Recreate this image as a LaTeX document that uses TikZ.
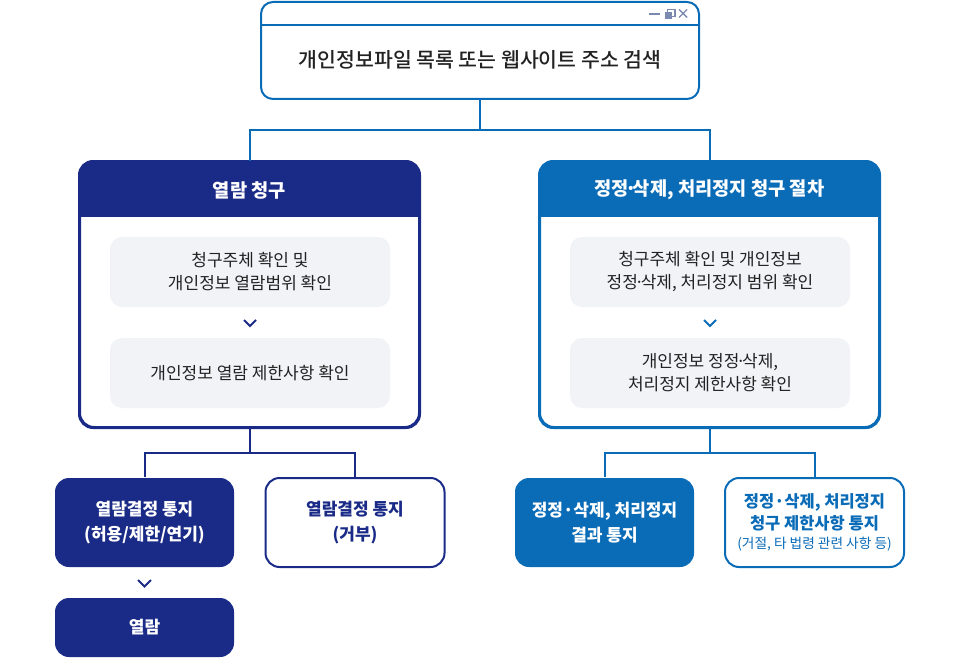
\documentclass[tikz,border=0pt]{standalone}
\usepackage{fontspec}
\setmainfont{Noto Sans CJK KR}
\newfontfamily\medfont{Noto Sans CJK KR}[UprightFont={* Medium}]
\newcommand\tdot{\kern-0.2em·\kern-0.2em}
\definecolor{navy}{HTML}{1A2A87}
\definecolor{mblue}{HTML}{0A6BB7}
\definecolor{innerbg}{HTML}{F1F3F7}
\definecolor{txt}{HTML}{222222}
\definecolor{icon}{HTML}{7A8AB0}
\tikzset{
  panel/.style={draw, line width=2pt, rounded corners=14pt, minimum width=339pt, minimum height=265pt, inner sep=0pt},
  innerbox/.style={fill=innerbg, rounded corners=12pt, minimum width=280pt, minimum height=70pt, align=center, text=txt, font=\fontsize{17}{23}\selectfont},
  resbox/.style={line width=2pt, rounded corners=14pt, minimum width=179pt, minimum height=89pt, align=center, font=\fontsize{17}{25}\selectfont\bfseries},
  conn/.style={line width=2pt},
  chev/.style={line width=1.8pt},
  headtxt/.style={text=white, font=\fontsize{18.7}{20}\selectfont\bfseries}
}
\begin{document}
\begin{tikzpicture}[x=1pt,y=-1pt]
\useasboundingbox (0,0) rectangle (960,658);
% top box
\node[draw=mblue, line width=2pt, rounded corners=12pt, minimum width=438pt, minimum height=97pt, inner sep=0pt] (top) at (480,50.5) {};
\draw[mblue, line width=2pt] (top.west |- 0,25) -- (top.east |- 0,25);
\node[text=txt, font=\fontsize{20.5}{22}\selectfont\medfont] (toptxt) at (480,60) {개인정보파일 목록 또는 웹사이트 주소 검색};
\draw[icon, line width=1.6pt] (649,14) -- (660,14);
\draw[icon, line width=1.2pt] (667.5,9.5) rectangle (675,16.5);
\fill[icon] (664.5,12) rectangle (672,19);
\draw[icon, line width=1.4pt] (679,9.5) -- (687,17.5) (687,9.5) -- (679,17.5);

% panels
\node[panel, draw=navy] (lp) at (249.5,294.5) {};
\node[panel, draw=mblue] (rp) at (709.5,294.5) {};
\begin{scope}
\clip[rounded corners=14pt] (lp.north west) rectangle (lp.south east);
\fill[navy] (lp.north west) rectangle ([yshift=-56pt]lp.north east);
\end{scope}
\begin{scope}
\clip[rounded corners=14pt] (rp.north west) rectangle (rp.south east);
\fill[mblue] (rp.north west) rectangle ([yshift=-56pt]rp.north east);
\end{scope}
\draw[navy, line width=2pt, rounded corners=14pt] (lp.north west) rectangle (lp.south east);
\draw[mblue, line width=2pt, rounded corners=14pt] (rp.north west) rectangle (rp.south east);
\node[headtxt] (lh) at (249.5,190) {열람 청구};
\node[headtxt] (rh) at (709.5,190) {정정\tdot 삭제, 처리정지 청구 절차};

% inner boxes
\node[innerbox] (l1) at (250,272) {청구주체 확인 및\\개인정보 열람범위 확인};
\node[innerbox] (l2) at (250,373) {개인정보 열람 제한사항 확인};
\node[innerbox] (r1) at (710,272) {청구주체 확인 및 개인정보\\정정\tdot 삭제, 처리정지 범위 확인};
\node[innerbox] (r2) at (710,373) {개인정보 정정\tdot 삭제,\\처리정지 제한사항 확인};
\draw[navy, chev] (244,320) -- (250,326) -- (256,320);
\draw[mblue, chev] (704,320) -- (710,326) -- (716,320);

% result boxes
\node[resbox, fill=navy, text=white] (b1) at (144.5,522.5) {열람결정 통지\\(허용/제한/연기)};
\node[resbox, draw=navy, text=navy] (b2) at (355,522.5) {열람결정 통지\\(거부)};
\node[resbox, fill=navy, text=white, minimum height=59pt] (b3) at (144.5,627.5) {열람};
\node[resbox, fill=mblue, text=white] (b4) at (604.5,522.5) {정정·삭제, 처리정지\\결과 통지};
\node[resbox, draw=mblue, text=mblue, font=\fontsize{16.5}{22}\selectfont\bfseries] (b5) at (814.5,522.5) {정정·삭제, 처리정지\\청구 제한사항 통지\\[-3pt]{\fontsize{13.7}{16}\selectfont\mdseries (거절, 타 법령 관련 사항 등)}};
\draw[navy, chev] (138,580) -- (144.5,586.5) -- (151,580);

% connectors
\coordinate (tj) at (480,130);
\draw[mblue, conn] (top.south) -- (tj);
\draw[mblue, conn] (tj) -| (lp.north);
\draw[mblue, conn] (tj) -| (rp.north);
\coordinate (lj) at (249.5,453);
\draw[navy, conn] (lp.south) -- (lj);
\draw[navy, conn] (lj) -| (b1.north);
\draw[navy, conn] (lj) -| (b2.north);
\coordinate (rj) at (709.5,453);
\draw[mblue, conn] (rp.south) -- (rj);
\draw[mblue, conn] (rj) -| (b4.north);
\draw[mblue, conn] (rj) -| (b5.north);
\end{tikzpicture}
\end{document}
